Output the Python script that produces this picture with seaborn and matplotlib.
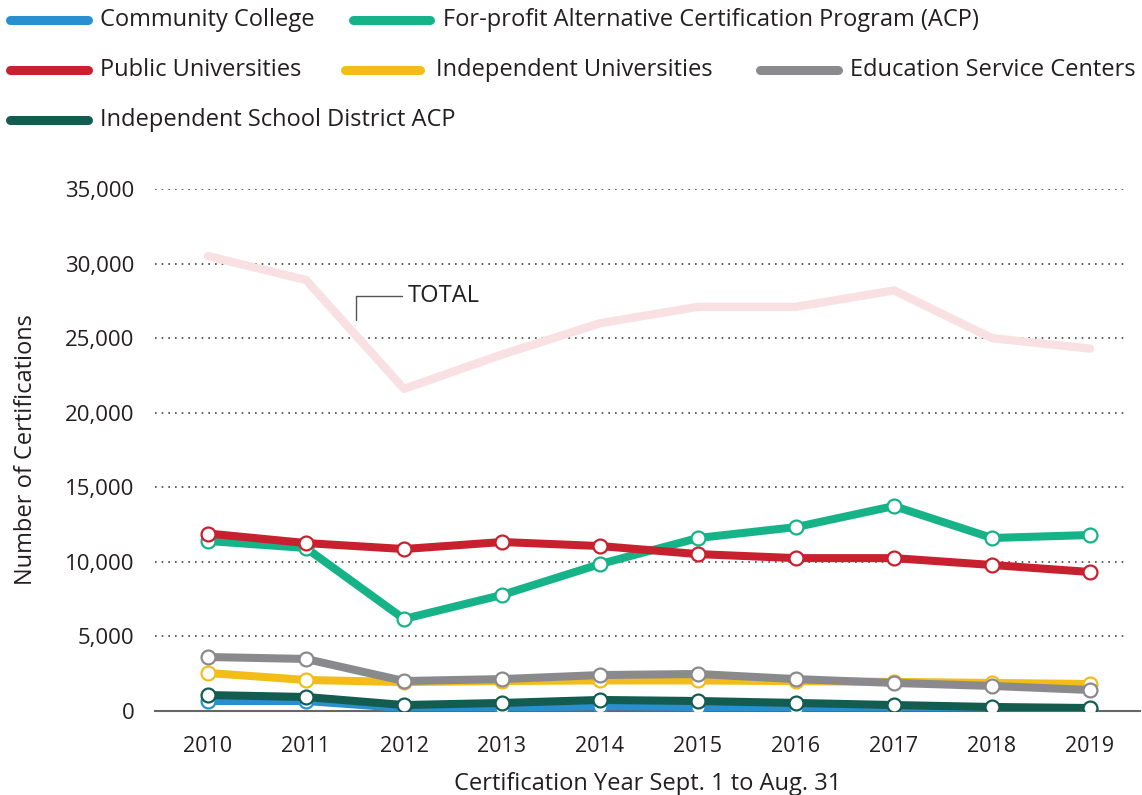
import pandas as pd
import matplotlib.pyplot as plt
import seaborn as sns
from matplotlib.lines import Line2D
from matplotlib.ticker import FuncFormatter

years = [2010, 2011, 2012, 2013, 2014, 2015, 2016, 2017, 2018, 2019]

total = [30500, 28900, 21600, 23900, 26000, 27100, 27100, 28200, 25000, 24300]
community_college = [670, 670, 200, 200, 330, 270, 200, 130, 70, 70]
for_profit_acp = [11400, 10930, 6170, 7780, 9850, 11600, 12330, 13740, 11600, 11800]
public_univ = [11900, 11260, 10860, 11330, 11060, 10520, 10250, 10250, 9790, 9320]
independent_univ = [2550, 2080, 1940, 2010, 2050, 2050, 2000, 1950, 1880, 1810]
service_centers = [3620, 3490, 2010, 2140, 2410, 2480, 2140, 1880, 1680, 1410]
isd_acp = [1070, 940, 400, 540, 740, 670, 540, 400, 270, 200]

sns.set_style("white")
plt.rcParams['font.family'] = ['Open Sans', 'DejaVu Sans']

colors = {
    "Community College": "#2a8fcf",
    "For-profit Alternative Certification Program (ACP)": "#17b388",
    "Public Universities": "#c8202f",
    "Independent Universities": "#f2bd19",
    "Education Service Centers": "#8a8a8d",
    "Independent School District ACP": "#135c50",
}

series = {
    "Community College": community_college,
    "Independent School District ACP": isd_acp,
    "Independent Universities": independent_univ,
    "Education Service Centers": service_centers,
    "For-profit Alternative Certification Program (ACP)": for_profit_acp,
    "Public Universities": public_univ,
}

W, H = 1142, 795
fig = plt.figure(figsize=(11.42, 7.95), dpi=100)
ax = fig.add_axes([155 / W, 84 / H, 985 / W, 522 / H])

df_total = pd.DataFrame({"year": years, "value": total})
sns.lineplot(data=df_total, x="year", y="value", ax=ax, color="#f8e0e3",
             linewidth=6, solid_capstyle="round", zorder=2)

for name, vals in series.items():
    d = pd.DataFrame({"year": years, "value": vals})
    sns.lineplot(data=d, x="year", y="value", ax=ax, color=colors[name],
                 linewidth=5.8, marker="o", markersize=10,
                 markerfacecolor="white", markeredgecolor=colors[name],
                 markeredgewidth=1.6, zorder=3)

ax.set_xlim(2010 - 53 / 98, 2019 + 50 / 98)
ax.set_ylim(0, 35000)
ax.set_xticks(years)
ax.set_yticks(range(0, 35001, 5000))
ax.yaxis.set_major_formatter(FuncFormatter(lambda v, p: f"{int(v):,}"))

# dotted gridlines
for yv in range(5000, 35001, 5000):
    ax.axhline(yv, xmin=0, xmax=970 / 985, color="#444444", linestyle=(0, (1, 3)),
               linewidth=1.2, zorder=1)

for s in ["top", "right", "left"]:
    ax.spines[s].set_visible(False)
ax.spines["bottom"].set_color("#666666")
ax.spines["bottom"].set_linewidth(1.5)

ax.tick_params(axis="x", length=10, width=1.2, color="#444444", labelsize=15.5,
               pad=8, labelcolor="#231f20")
ax.tick_params(axis="y", length=0, labelsize=16, pad=15, labelcolor="#231f20")

ax.set_xlabel("Certification Year Sept. 1 to Aug. 31", fontsize=17, color="#231f20",
              labelpad=10.5)
ax.set_ylabel("Number of Certifications", fontsize=17, color="#231f20", labelpad=19)

# TOTAL callout
ax.plot([2011.51, 2011.51, 2011.98], [26206, 27815, 27815], color="#555555",
        linewidth=1, zorder=4)
ax.text(2012.04, 27815, "TOTAL", fontsize=17, va="center", ha="left",
        color="#231f20")

# legend drawn by hand (irregular rows)
legend_items = [
    ("Community College", 10, 88, 100, 20),
    ("For-profit Alternative Certification Program (ACP)", 353, 430, 443, 20),
    ("Public Universities", 10, 88, 100, 70),
    ("Independent Universities", 345, 420, 436, 70),
    ("Education Service Centers", 760, 838, 850, 70),
    ("Independent School District ACP", 10, 88, 100, 120),
]
for name, x0, x1, xt, yy in legend_items:
    fy = 1 - yy / H
    fig.add_artist(Line2D([x0 / W, x1 / W], [fy, fy], color=colors[name],
                          linewidth=6.5, solid_capstyle="round"))
    fig.text(xt / W, fy, name, fontsize=17, va="center", ha="left", color="#231f20")

fig.savefig("out.png", dpi=100)
